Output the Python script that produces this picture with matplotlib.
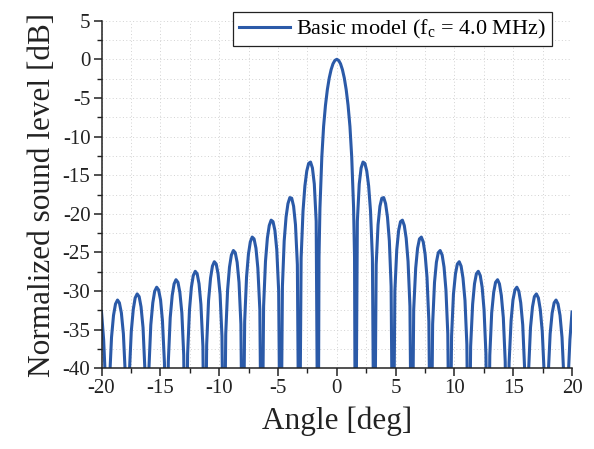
import numpy as np
import matplotlib
matplotlib.use('Agg')
import matplotlib.pyplot as plt
from matplotlib.ticker import MultipleLocator

plt.rcParams['font.family'] = ['Liberation Serif', 'DejaVu Serif']
plt.rcParams['mathtext.fontset'] = 'custom'
plt.rcParams['mathtext.rm'] = 'Liberation Serif'
plt.rcParams['axes.unicode_minus'] = False

# beam pattern, right half (the pattern is symmetric about 0 deg)
# nulls drop far below the plotted range, stored as -60 dB
angle_deg = [0.00, 0.16, 0.32, 0.48, 0.64, 0.80, 0.96, 1.12, 1.27, 1.43, 1.51, 1.59,
             1.75, 1.91, 2.07, 2.23, 2.39, 2.55, 2.71, 2.87, 3.03, 3.19,
             3.35, 3.51, 3.67, 3.83, 3.99, 4.15, 4.31, 4.47, 4.62, 4.78,
             4.94, 5.10, 5.26, 5.42, 5.58, 5.74, 5.90, 6.06, 6.22, 6.38,
             6.54, 6.71, 6.87, 7.03, 7.19, 7.35, 7.51, 7.67, 7.83, 7.99,
             8.15, 8.31, 8.47, 8.63, 8.79, 8.96, 9.12, 9.28, 9.44, 9.60,
             9.76, 9.92, 10.09, 10.25, 10.41, 10.57, 10.73, 10.90, 11.06, 11.22,
             11.38, 11.55, 11.71, 11.87, 12.03, 12.20, 12.36, 12.52, 12.68, 12.85,
             13.01, 13.17, 13.34, 13.50, 13.67, 13.83, 13.99, 14.16, 14.32, 14.49,
             14.65, 14.82, 14.98, 15.15, 15.31, 15.48, 15.64, 15.81, 15.97, 16.14,
             16.31, 16.47, 16.64, 16.80, 16.97, 17.14, 17.30, 17.47, 17.64, 17.81,
             17.97, 18.14, 18.31, 18.48, 18.64, 18.81, 18.98, 19.15, 19.32, 19.49,
             19.66, 19.82, 20.00]
level_db = [0.0, -0.14, -0.58, -1.33, -2.42, -3.92, -5.94, -8.69, -12.62, -19.23, -25.6, -60,
            -20.97, -16.14, -14.06, -13.30, -13.47, -14.46, -16.39, -19.66, -25.72, -60,
            -26.59, -21.41, -19.02, -17.98, -17.90, -18.68, -20.41, -23.50, -29.39, -60,
            -29.97, -24.66, -22.15, -21.01, -20.82, -21.51, -23.15, -26.15, -31.96, -60,
            -32.40, -27.02, -24.45, -23.25, -23.01, -23.63, -25.23, -28.18, -33.95, -60,
            -34.29, -28.88, -26.27, -25.03, -24.75, -25.34, -26.90, -29.83, -35.56, -60,
            -35.85, -30.41, -27.77, -26.50, -26.20, -26.77, -28.31, -31.21, -36.92, -60,
            -37.17, -31.71, -29.05, -27.76, -27.44, -28.00, -29.51, -32.40, -38.10, -60,
            -38.31, -32.83, -30.17, -28.87, -28.53, -29.07, -30.57, -33.45, -39.13, -60,
            -39.32, -33.83, -31.15, -29.84, -29.50, -30.02, -31.52, -34.38, -40.06, -60,
            -40.23, -34.73, -32.04, -30.72, -30.37, -30.89, -32.37, -35.23, -40.89, -60,
            -41.05, -35.54, -32.85, -31.52, -31.16, -31.67, -33.15, -36.00, -41.65, -60,
            -41.80, -36.29, -32.7]

legend_label = 'Basic model (f$_{\\rm c}$ = 4.0 MHz)'

a = np.array(angle_deg)
l = np.array(level_db)
x = np.concatenate([-a[::-1], a[1:]])
y = np.concatenate([l[::-1], l[1:]])

fig = plt.figure(figsize=(5.94, 4.49), dpi=100)
ax = fig.add_axes([0.1709, 0.1797, 0.7921, 0.7742])

ax.plot(x, y, color='#2b5aa8', lw=2.2, label=legend_label, solid_joinstyle='round')

ax.set_xlim(-20, 20)
ax.set_ylim(-40, 5)
ax.xaxis.set_major_locator(MultipleLocator(5))
ax.xaxis.set_minor_locator(MultipleLocator(2.5))
ax.yaxis.set_major_locator(MultipleLocator(5))
ax.yaxis.set_minor_locator(MultipleLocator(2.5))
ax.grid(which='both', color='#d2d2d2', linestyle=(0, (1, 2.5)), linewidth=0.7)
ax.set_axisbelow(True)

for side in ['top', 'right']:
    ax.spines[side].set_visible(False)
for side in ['left', 'bottom']:
    ax.spines[side].set_linewidth(1.1)
    ax.spines[side].set_color('#222222')

ax.tick_params(which='major', direction='out', length=6, width=1.1, labelsize=15,
               colors='#222222', pad=2)
ax.tick_params(which='minor', direction='out', length=3.5, width=1.0, colors='#222222')

ax.set_xlabel('Angle [deg]', fontsize=22.5, color='#222222', labelpad=6)
ax.set_ylabel('Normalized sound level [dB]', fontsize=22.5, color='#222222', labelpad=4)

leg = ax.legend(loc='upper right', bbox_to_anchor=(0.9575, 1.024), fontsize=16,
                frameon=True, fancybox=False, handlelength=2.3, handletextpad=0.3,
                borderpad=0.25, borderaxespad=0)
leg.get_frame().set_edgecolor('#222222')
leg.get_frame().set_linewidth(0.9)
leg.get_frame().set_alpha(1)

fig.savefig('out.png', dpi=100)
